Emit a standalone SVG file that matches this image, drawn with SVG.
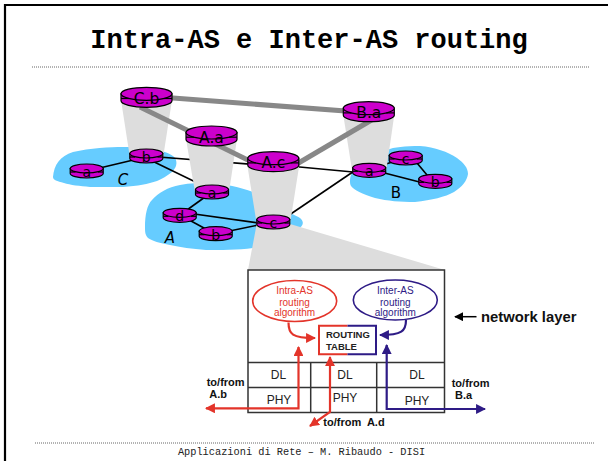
<svg xmlns="http://www.w3.org/2000/svg" width="608" height="461" viewBox="0 0 608 461">
<defs>
<style>
.frame{fill:none;stroke:#000;stroke-width:2.2}
.dots{stroke:#666;stroke-width:1;stroke-dasharray:1 1}
.title{font-family:"Liberation Mono",monospace;font-weight:bold;font-size:27px;fill:#000}
.foot{font-family:"Liberation Mono",monospace;font-size:10.3px;fill:#222}
.as{fill:#66ccff}
.cone{fill:#dddddd}
.thin{stroke:#000;stroke-width:1.6;fill:none}
.thick{stroke:#888;stroke-width:5;fill:none}
.rt{fill:#cc00cc;stroke:#000;stroke-width:1.2}
.dash{stroke:#000;stroke-width:1.2}
.rl{font-family:"DejaVu Sans",sans-serif;font-size:15.5px;fill:#000;text-anchor:middle}
.rs{font-family:"DejaVu Sans",sans-serif;font-size:14px;fill:#000;text-anchor:middle}
.asl{font-family:"DejaVu Sans",sans-serif;font-size:15px;fill:#000;text-anchor:middle;font-style:oblique}
.box{fill:#fff;stroke:#333;stroke-width:1.5}
.cell{stroke:#333;stroke-width:1.5}
.sans{font-family:"Liberation Sans",Arial,sans-serif}
.alg{font-size:10px;text-anchor:middle}
.lay{font-size:12px;text-anchor:middle;fill:#222}
.lbl{font-size:11px;font-weight:bold;fill:#111}
.red{stroke:#e3342a;fill:none;stroke-width:2.2}
.navy{stroke:#2e1b86;fill:none;stroke-width:2.2}
</style>
<marker id="ar" viewBox="0 0 10 10" refX="9" refY="5" markerWidth="4.5" markerHeight="4.5" markerUnits="strokeWidth" orient="auto-start-reverse"><path d="M0,0 L10,5 L0,10 Z" fill="#e3342a"/></marker>
<marker id="an" viewBox="0 0 10 10" refX="9" refY="5" markerWidth="4.5" markerHeight="4.5" markerUnits="strokeWidth" orient="auto-start-reverse"><path d="M0,0 L10,5 L0,10 Z" fill="#2e1b86"/></marker>
<marker id="ak" viewBox="0 0 10 10" refX="9" refY="5" markerWidth="6" markerHeight="6" markerUnits="strokeWidth" orient="auto"><path d="M0,0 L10,5 L0,10 Z" fill="#000"/></marker>
</defs>
<rect width="608" height="461" fill="#fff"/>
<path class="frame" d="M5,461 V5 H608"/>
<text class="title" x="309" y="48" text-anchor="middle">Intra-AS e Inter-AS routing</text>
<line class="dots" x1="32" y1="67" x2="590" y2="67"/>
<line class="dots" x1="35" y1="443" x2="595" y2="443"/>
<text class="foot" x="301.5" y="455" text-anchor="middle">Applicazioni di Rete – M. Ribaudo - DISI</text>

<g id="as-regions">
<path class="as" d="M53,177 C54,165 60,156 73,152 C90,148 110,147 123,147 C138,147 148,148 153,149 C164,151 172,154 175,158 C178,163 176,168 172,172 C167,176 162,179 157,181 C148,184 138,186 123,187 C110,187 98,187 90,187 C80,186 70,185 64,183 C57,181 53,180 53,177 Z"/>
<path class="as" d="M145,227 C145,215 147,205 152,200 C158,193 168,187 180,185 C190,183 200,183 210,183 C225,184 240,187 253,192 C265,197 272,203 280,208 C287,212 295,215 300,218 C305,222 303,227 297,229 C292,231 288,233 283,236 C275,242 265,247 253,248 C238,250 220,250 206,250 C192,249 180,247 170,245 C160,243 152,241 148,238 C145,235 145,231 145,227 Z"/>
<path class="as" d="M350,181 C350,175 353,169 360,165 C368,159 378,153 387,150 C394,147 405,146 420,146 C435,147 448,152 457,158 C464,163 468,168 468,174 C467,181 462,187 454,192 C445,197 432,200 415,202 C400,202 388,201 375,198 C362,194 354,190 351,186 C350,184 350,183 350,181 Z"/>
</g>

<g id="connectors">
<g id="intra-links">
<line class="thin" x1="87" y1="171" x2="146" y2="157"/>
<line class="thin" x1="146" y1="156" x2="273" y2="166"/>
<line class="thin" x1="146" y1="158" x2="212" y2="190"/>
<line class="thin" x1="212" y1="192" x2="180" y2="215"/>
<line class="thin" x1="180" y1="212" x2="273" y2="225"/>
<line class="thin" x1="180" y1="215" x2="215" y2="234"/>
<line class="thin" x1="215" y1="234" x2="273" y2="222"/>
<line class="thin" x1="273" y1="226" x2="369" y2="161"/>
<line class="thin" x1="273" y1="164.5" x2="369" y2="173.5"/>
<line class="thin" x1="369" y1="169" x2="406" y2="158"/>
<line class="thin" x1="369" y1="169" x2="435" y2="186"/>
<line class="thin" x1="412" y1="157" x2="432" y2="181"/>
</g>
<g id="cones">
<polygon class="cone" points="121,100 172,100 163,158 130,158"/>
<polygon class="cone" points="186,139 237,139 228.7,194 195.3,194"/>
<polygon class="cone" points="247.3,165 299.3,165 290,224 256.7,224"/>
<polygon class="cone" points="343.3,115 394.3,115 386,172 352.3,172"/>
<polygon class="cone" points="256.7,224 290,224 445,270 248,270"/>
</g>
<g id="inter-links">
<line class="thick" x1="146.5" y1="96" x2="368.8" y2="112.8"/>
<line class="thick" x1="140" y1="107" x2="260" y2="166"/>
<line class="thick" x1="290" y1="168" x2="375" y2="118"/>
</g>
</g>

<g id="C.b"><path class="rt" d="M121,93.8 V100.8 A25.5,6.5 0 0 0 172,100.8 V93.8 Z"/><ellipse class="rt" cx="146.5" cy="93.8" rx="25.5" ry="6.5"/><line class="dash" x1="121" y1="98.5" x2="129" y2="98.5"/><line class="dash" x1="164" y1="98.5" x2="172" y2="98.5"/><text class="rl" x="146.5" y="104">C.b</text></g>
<g id="A.a"><path class="rt" d="M186,132.5 V139.5 A25.5,6.5 0 0 0 237,139.5 V132.5 Z"/><ellipse class="rt" cx="211.5" cy="132.5" rx="25.5" ry="6.5"/><line class="dash" x1="186" y1="137.2" x2="194" y2="137.2"/><line class="dash" x1="229" y1="137.2" x2="237" y2="137.2"/><text class="rl" x="211.5" y="142.7">A.a</text></g>
<g id="A.c"><path class="rt" d="M247.8,158.2 V165.2 A25.5,6.5 0 0 0 298.8,165.2 V158.2 Z"/><ellipse class="rt" cx="273.3" cy="158.2" rx="25.5" ry="6.5"/><line class="dash" x1="247.8" y1="162.9" x2="255.8" y2="162.9"/><line class="dash" x1="290.8" y1="162.9" x2="298.8" y2="162.9"/><text class="rl" x="273.3" y="168.4">A.c</text></g>
<g id="B.a"><path class="rt" d="M343.3,108.2 V115.2 A25.5,6.5 0 0 0 394.3,115.2 V108.2 Z"/><ellipse class="rt" cx="368.8" cy="108.2" rx="25.5" ry="6.5"/><line class="dash" x1="343.3" y1="112.9" x2="351.3" y2="112.9"/><line class="dash" x1="386.3" y1="112.9" x2="394.3" y2="112.9"/><text class="rl" x="368.8" y="118.4">B.a</text></g>

<g id="C-b"><path class="rt" d="M129.8,153.5 V158.5 A16.5,4.5 0 0 0 162.8,158.5 V153.5 Z"/><ellipse class="rt" cx="146.3" cy="153.5" rx="16.5" ry="4.5"/><line class="dash" x1="129.8" y1="157" x2="135" y2="157"/><line class="dash" x1="157.6" y1="157" x2="162.8" y2="157"/><text class="rs" x="146.3" y="162">b</text></g>
<g id="C-a"><path class="rt" d="M70.2,168.5 V173.5 A16.5,4.5 0 0 0 103.2,173.5 V168.5 Z"/><ellipse class="rt" cx="86.7" cy="168.5" rx="16.5" ry="4.5"/><line class="dash" x1="70.2" y1="172" x2="75.4" y2="172"/><line class="dash" x1="98" y1="172" x2="103.2" y2="172"/><text class="rs" x="86.7" y="177">a</text></g>
<g id="A-a"><path class="rt" d="M195.5,189.5 V194.5 A16.5,4.5 0 0 0 228.5,194.5 V189.5 Z"/><ellipse class="rt" cx="212" cy="189.5" rx="16.5" ry="4.5"/><line class="dash" x1="195.5" y1="193" x2="200.7" y2="193"/><line class="dash" x1="223.3" y1="193" x2="228.5" y2="193"/><text class="rs" x="212" y="198">a</text></g>
<g id="A-d"><path class="rt" d="M163.2,212.8 V217.8 A16.5,4.5 0 0 0 196.2,217.8 V212.8 Z"/><ellipse class="rt" cx="179.7" cy="212.8" rx="16.5" ry="4.5"/><line class="dash" x1="163.2" y1="216.3" x2="168.4" y2="216.3"/><line class="dash" x1="191" y1="216.3" x2="196.2" y2="216.3"/><text class="rs" x="179.7" y="221.3">d</text></g>
<g id="A-b"><path class="rt" d="M199.2,231.2 V236.2 A16.5,4.5 0 0 0 232.2,236.2 V231.2 Z"/><ellipse class="rt" cx="215.7" cy="231.2" rx="16.5" ry="4.5"/><line class="dash" x1="199.2" y1="234.7" x2="204.4" y2="234.7"/><line class="dash" x1="227" y1="234.7" x2="232.2" y2="234.7"/><text class="rs" x="215.7" y="239.7">b</text></g>
<g id="A-c"><path class="rt" d="M256.8,219.5 V224.5 A16.5,4.5 0 0 0 289.8,224.5 V219.5 Z"/><ellipse class="rt" cx="273.3" cy="219.5" rx="16.5" ry="4.5"/><line class="dash" x1="256.8" y1="223" x2="262" y2="223"/><line class="dash" x1="284.6" y1="223" x2="289.8" y2="223"/><text class="rs" x="273.3" y="228">c</text></g>
<g id="B-a"><path class="rt" d="M352.7,167.8 V172.8 A16.5,4.5 0 0 0 385.7,172.8 V167.8 Z"/><ellipse class="rt" cx="369.2" cy="167.8" rx="16.5" ry="4.5"/><line class="dash" x1="352.7" y1="171.3" x2="357.9" y2="171.3"/><line class="dash" x1="380.5" y1="171.3" x2="385.7" y2="171.3"/><text class="rs" x="369.2" y="176.3">a</text></g>
<g id="B-c"><path class="rt" d="M389.2,155.5 V160.5 A16.5,4.5 0 0 0 422.2,160.5 V155.5 Z"/><ellipse class="rt" cx="405.7" cy="155.5" rx="16.5" ry="4.5"/><line class="dash" x1="389.2" y1="159" x2="394.4" y2="159"/><line class="dash" x1="417" y1="159" x2="422.2" y2="159"/><text class="rs" x="405.7" y="164">c</text></g>
<g id="B-b"><path class="rt" d="M418.8,178.8 V183.8 A16.5,4.5 0 0 0 451.8,183.8 V178.8 Z"/><ellipse class="rt" cx="435.3" cy="178.8" rx="16.5" ry="4.5"/><line class="dash" x1="418.8" y1="182.3" x2="424" y2="182.3"/><line class="dash" x1="446.6" y1="182.3" x2="451.8" y2="182.3"/><text class="rs" x="435.3" y="187.3">b</text></g>

<g id="as-labels">
<text class="asl" x="123" y="185">C</text>
<text class="asl" x="170" y="243">A</text>
<text class="asl" x="396" y="198" style="font-style:normal">B</text>
</g>

<g id="network-layer-box">
<rect class="box" x="248" y="270" width="196.5" height="142.5"/>
<line class="cell" x1="248" y1="362.5" x2="444.5" y2="362.5"/>
<line class="cell" x1="248" y1="387.5" x2="444.5" y2="387.5"/>
<line class="cell" x1="310.7" y1="362.5" x2="310.7" y2="412.5"/>
<line class="cell" x1="376.7" y1="362.5" x2="376.7" y2="412.5"/>
<g class="sans lay">
<text x="278.5" y="378.5">DL</text><text x="279" y="403.5">PHY</text>
<text x="345" y="378.5">DL</text><text x="345" y="401.5">PHY</text>
<text x="417" y="378.5">DL</text><text x="417" y="405">PHY</text>
</g>
</g>

<g id="intra-as-algorithm">
<ellipse cx="294.7" cy="301" rx="42" ry="20.5" fill="#fff" stroke="#e3342a" stroke-width="1.6"/>
<g class="sans alg" fill="#e3342a"><text x="294.5" y="294.3">Intra-AS</text><text x="294.5" y="305.5">routing</text><text x="294.5" y="316.3">algorithm</text></g>
</g>
<g id="inter-as-algorithm">
<ellipse cx="395.3" cy="300" rx="42" ry="20" fill="#fff" stroke="#2e1b86" stroke-width="1.6"/>
<g class="sans alg" fill="#2e1b86"><text x="395.3" y="294.3">Inter-AS</text><text x="395.3" y="305.5">routing</text><text x="395.3" y="316.3">algorithm</text></g>
</g>
<g id="routing-table">
<rect x="319" y="325.7" width="57" height="28.6" fill="#fff"/>
<path d="M347.5,325.7 H319 V354.3 H347.5" fill="none" stroke="#e3342a" stroke-width="2"/>
<path d="M347.5,325.7 H376 V354.3 H347.5" fill="none" stroke="#2e1b86" stroke-width="2"/>
<g class="sans" font-size="9.5px" font-weight="bold" fill="#222"><text x="326" y="338.3">ROUTING</text><text x="326" y="350">TABLE</text></g>
</g>

<g id="network-layer-label">
<line x1="476.5" y1="316.7" x2="455" y2="316.7" stroke="#000" stroke-width="1.5" marker-end="url(#ak)"/>
<text class="sans" x="481" y="321.7" font-size="14.8px" font-weight="bold" fill="#111">network layer</text>
</g>

<g id="flow-arrows">
<path class="red" d="M288.5,322.5 C288.5,334 292,338 315,338" marker-end="url(#ar)"/>
<path class="navy" d="M406,320 C406,331 402,335 380,335" marker-end="url(#an)"/>
<path class="red" d="M298.5,347 V408.3 H206" marker-end="url(#ar)" marker-start="url(#ar)"/>
<path class="red" d="M330,357 V412 L310,426" marker-end="url(#ar)" marker-start="url(#ar)"/>
<path class="navy" d="M386.7,345 V409 H485" marker-end="url(#an)" marker-start="url(#an)"/>
</g>

<g id="endpoint-labels" class="sans lbl">
<text x="206.7" y="386">to/from</text><text x="209.3" y="398.3">A.b</text>
<text x="451.7" y="386.7">to/from</text><text x="455" y="399">B.a</text>
<text x="323.3" y="426" xml:space="preserve">to/from  A.d</text>
</g>
</svg>
